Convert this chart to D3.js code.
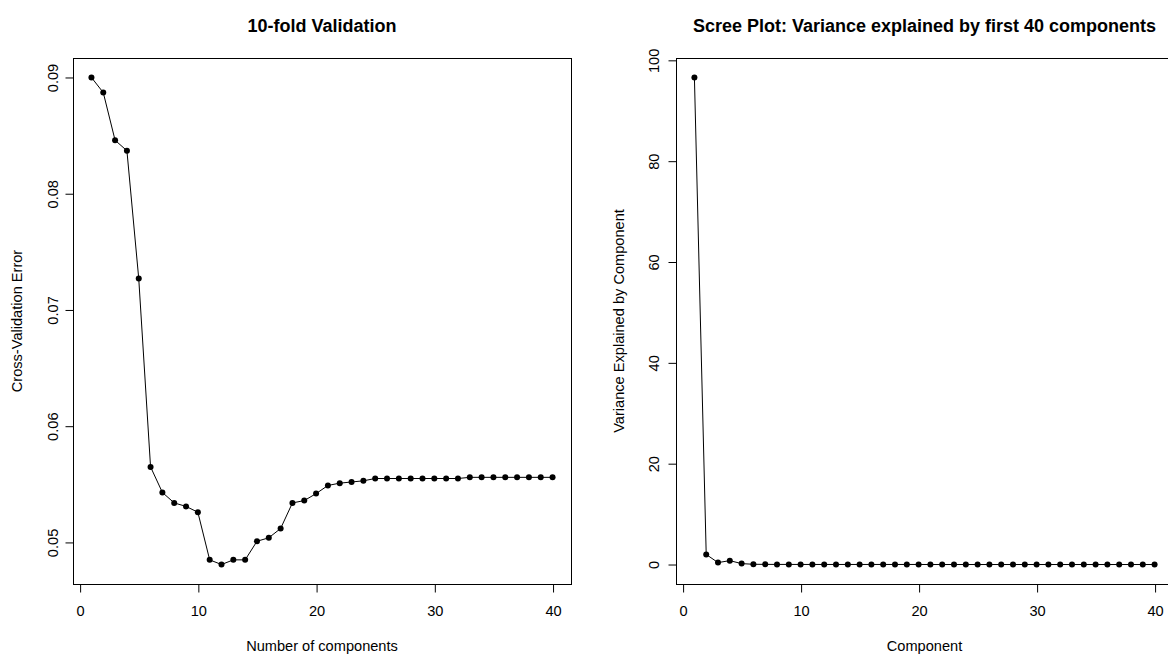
<!DOCTYPE html>
<html>
<head>
<meta charset="utf-8">
<script src="https://cdn.jsdelivr.net/npm/d3@7"></script>
<style>
  html, body { margin: 0; padding: 0; background: #fff; }
  svg { display: block; font-family: "Liberation Sans", Arial, Helvetica, sans-serif; }
</style>
</head>
<body>
<svg id="chart" width="1168" height="654"></svg>
<script>
// ---- Data ----
const components = d3.range(1, 41);
const cvError = [
  0.0900, 0.0887, 0.0846, 0.0837, 0.0727, 0.0565, 0.0543, 0.0534, 0.0531, 0.0526,
  0.0485, 0.0481, 0.0485, 0.0485, 0.0501, 0.0504, 0.0512, 0.0534, 0.0536, 0.0542,
  0.0549, 0.0551, 0.0552, 0.0553, 0.0555, 0.0555, 0.0555, 0.0555, 0.0555, 0.0555,
  0.0555, 0.0555, 0.0556, 0.0556, 0.0556, 0.0556, 0.0556, 0.0556, 0.0556, 0.0556
];
const varianceExplained = [
  96.6, 2.0, 0.38, 0.77, 0.18, 0.05, 0.03, 0.02, 0.02, 0.01,
  0.01, 0.01, 0.01, 0.01, 0.01, 0.01, 0.01, 0.01, 0.01, 0.01,
  0.0, 0.0, 0.0, 0.0, 0.0, 0.0, 0.0, 0.0, 0.0, 0.0,
  0.0, 0.0, 0.0, 0.0, 0.0, 0.0, 0.0, 0.0, 0.0, 0.0
];
const xTicks = [0, 10, 20, 30, 40];
const cvTicks = [0.05, 0.06, 0.07, 0.08, 0.09];
const varTicks = [0, 20, 40, 60, 80, 100];

const svg = d3.select("#chart");

function panel(cfg) {
  const g = svg.append("g");
  // R-style 4% padding of ranges
  const xMin = d3.min(cfg.xs), xMax = d3.max(cfg.xs);
  const xPad = (xMax - xMin) * 0.04;
  const yMin = d3.min(cfg.ys), yMax = d3.max(cfg.ys);
  const yPad = (yMax - yMin) * 0.04;
  const x = d3.scaleLinear().domain([xMin - xPad, xMax + xPad]).range([cfg.left, cfg.right]);
  const y = d3.scaleLinear().domain([yMin - yPad, yMax + yPad]).range([cfg.bottom, cfg.top]);

  // box
  g.append("rect")
    .attr("x", cfg.left + 0.5).attr("y", cfg.top + 0.5)
    .attr("width", cfg.right - cfg.left).attr("height", cfg.bottom - cfg.top)
    .attr("fill", "none").attr("stroke", "#000").attr("stroke-width", 1);

  // x axis
  const xAxis = d3.axisBottom(x).tickValues(cfg.xTicks).tickSize(8).tickPadding(13).tickFormat(d3.format("d"));
  const gx = g.append("g").attr("transform", `translate(0.5,${cfg.bottom + 0.5})`).call(xAxis);
  gx.select(".domain").attr("d", `M${x(cfg.xTicks[0])},0H${x(cfg.xTicks[cfg.xTicks.length-1])}`);
  gx.selectAll("text").attr("font-size", "14.6px").attr("fill", "#000")
    .attr("font-family", "Liberation Sans, Arial, sans-serif");

  // y axis
  const yAxis = d3.axisLeft(y).tickValues(cfg.yTicks).tickSize(8).tickPadding(0).tickFormat(cfg.yFormat);
  const gy = g.append("g").attr("transform", `translate(${cfg.left + 0.5},0.5)`).call(yAxis);
  gy.select(".domain").attr("d", `M0,${y(cfg.yTicks[0])}V${y(cfg.yTicks[cfg.yTicks.length-1])}`);
  gy.selectAll("text")
    .attr("font-size", "14.6px").attr("fill", "#000")
    .attr("font-family", "Liberation Sans, Arial, sans-serif")
    .attr("x", null).attr("dy", null)
    .attr("text-anchor", "middle")
    .attr("transform", d => `translate(${-(cfg.left - cfg.yLabelX)},${y(d)}) rotate(-90)`)
    .attr("y", 0).attr("dy", "0.35em");
  gy.selectAll(".tick").attr("transform", null);
  gy.selectAll(".tick line").attr("transform", d => `translate(0,${y(d)})`);

  // line
  const line = d3.line().x((d, i) => x(cfg.xs[i])).y(d => y(d));
  g.append("path").datum(cfg.ys)
    .attr("d", line).attr("fill", "none").attr("stroke", "#000").attr("stroke-width", 1);

  // points
  g.selectAll("circle.pt").data(cfg.ys).join("circle")
    .attr("class", "pt")
    .attr("cx", (d, i) => x(cfg.xs[i])).attr("cy", d => y(d))
    .attr("r", 3).attr("fill", "#000");

  const cx = (cfg.left + cfg.right) / 2;
  // title
  g.append("text").attr("x", cx).attr("y", 26).attr("dy", "0.35em")
    .attr("text-anchor", "middle").attr("font-weight", "bold").attr("font-size", "18px")
    .text(cfg.title);
  // x label
  g.append("text").attr("x", cx).attr("y", 646).attr("dy", "0.35em")
    .attr("text-anchor", "middle").attr("font-size", "14.6px")
    .text(cfg.xLabel);
  // y label
  g.append("text")
    .attr("transform", `translate(${cfg.yTitleX},${(cfg.top + cfg.bottom) / 2}) rotate(-90)`)
    .attr("dy", "0.35em").attr("text-anchor", "middle").attr("font-size", "14.6px")
    .text(cfg.yLabel);
}

panel({
  xs: components, ys: cvError,
  left: 73, right: 571, top: 58, bottom: 584,
  xTicks: xTicks, yTicks: cvTicks, yFormat: d3.format(".2f"),
  yLabelX: 52, yTitleX: 17,
  title: "10-fold Validation",
  xLabel: "Number of components",
  yLabel: "Cross-Validation Error"
});

panel({
  xs: components, ys: varianceExplained,
  left: 676, right: 1173, top: 58, bottom: 584,
  xTicks: xTicks, yTicks: varTicks, yFormat: d3.format("d"),
  yLabelX: 653, yTitleX: 619,
  title: "Scree Plot: Variance explained by first 40 components",
  xLabel: "Component",
  yLabel: "Variance Explained by Component"
});
</script>
</body>
</html>
